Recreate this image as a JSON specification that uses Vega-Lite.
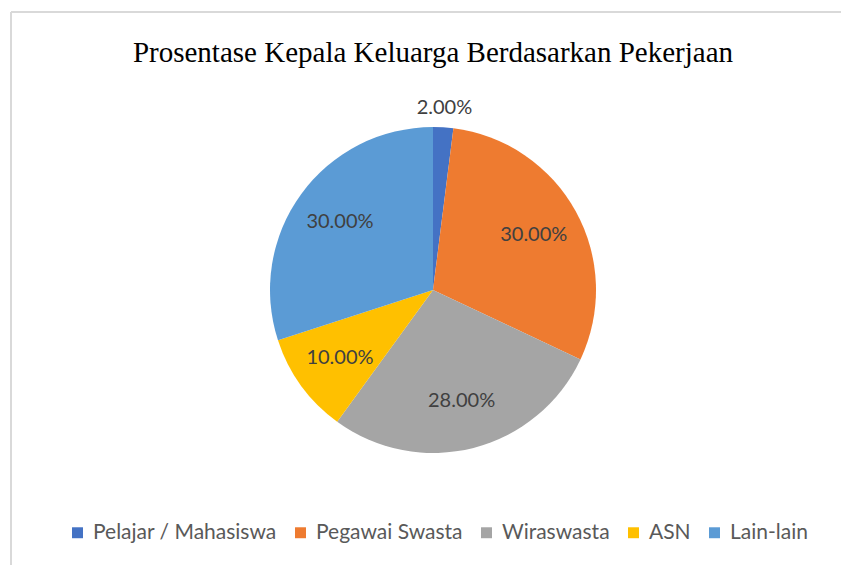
{
  "$schema": "https://vega.github.io/schema/vega-lite/v6.json",
  "autosize": {"type": "fit", "contains": "padding"},
  "width": 841,
  "height": 565,
  "padding": {"left": 11, "top": 12, "right": -14, "bottom": -3},
  "background": "white",
  "view": {"stroke": "#D9D9D9", "strokeWidth": 2, "fill": "white", "strokeDash": [844, 1400, 556, 0]},
  "title": {
    "text": "Prosentase Kepala Keluarga Berdasarkan Pekerjaan",
    "font": "Liberation Serif",
    "fontSize": 29,
    "fontWeight": "normal",
    "color": "#000000",
    "anchor": "middle",
    "offset": -56
  },
  "data": {
    "values": [
      {"kategori": "Pelajar / Mahasiswa", "persen": 2, "urut": 1},
      {"kategori": "Pegawai Swasta", "persen": 30, "urut": 2},
      {"kategori": "Wiraswasta", "persen": 28, "urut": 3},
      {"kategori": "ASN", "persen": 10, "urut": 4},
      {"kategori": "Lain-lain", "persen": 30, "urut": 5}
    ]
  },
  "transform": [{"calculate": "format(datum.persen, '.2f') + '%'", "as": "label"}],
  "encoding": {
    "theta": {"field": "persen", "type": "quantitative", "stack": true},
    "order": {"field": "urut", "type": "quantitative"},
    "color": {
      "field": "kategori",
      "type": "nominal",
      "sort": ["Pelajar / Mahasiswa", "Pegawai Swasta", "Wiraswasta", "ASN", "Lain-lain"],
      "scale": {
        "domain": ["Pelajar / Mahasiswa", "Pegawai Swasta", "Wiraswasta", "ASN", "Lain-lain"],
        "range": ["#4472C4", "#EE7B30", "#A5A5A5", "#FFC000", "#5B9BD5"]
      },
      "legend": {
        "orient": "none",
        "direction": "horizontal",
        "legendX": 56,
        "legendY": 510,
        "title": null,
        "symbolType": "square",
        "symbolSize": 120,
        "symbolStrokeWidth": 0,
        "labelFont": "Lato",
        "labelFontSize": 21,
        "labelColor": "#595959",
        "labelLimit": 300,
        "columnPadding": 13,
        "labelOffset": 5
      }
    }
  },
  "layer": [
    {"mark": {"type": "arc", "outerRadius": 163}},
    {
      "mark": {
        "type": "text",
        "radius": {"expr": "datum.persen < 5 ? 182 : 115"},
        "font": "Lato",
        "fontSize": 20,
        "baseline": "middle"
      },
      "encoding": {
        "text": {"field": "label", "type": "nominal"},
        "color": {"value": "#404040"}
      }
    }
  ]
}
